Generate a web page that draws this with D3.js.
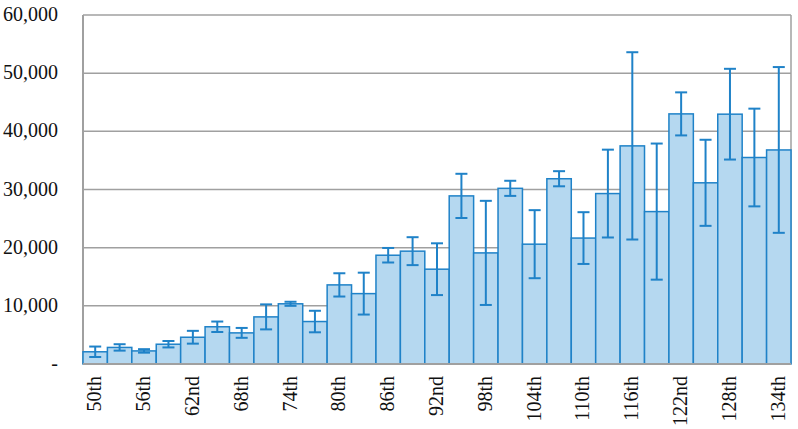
<!DOCTYPE html>
<html>
<head>
<meta charset="utf-8">
<script src="https://cdn.jsdelivr.net/npm/d3@7"></script>
<style>
  body { margin: 0; background: #fff; }
  svg { display: block; }
  text { font-family: "Liberation Serif", "DejaVu Serif", serif; }
</style>
</head>
<body>
<main></main>
<script>
// Data
const categories = ["50th", "53rd", "56th", "59th", "62nd", "65th", "68th", "71st", "74th", "77th",
  "80th", "83rd", "86th", "89th", "92nd", "95th", "98th", "101st", "104th", "107th",
  "110th", "113th", "116th", "119th", "122nd", "125th", "128th", "131st", "134th"];
const values = [2100, 2850, 2250, 3400, 4600, 6400, 5350, 8100, 10350, 7300,
  13600, 12100, 18700, 19400, 16300, 28900, 19100, 30200, 20600, 31850,
  21650, 29300, 37500, 26200, 43000, 31150, 42950, 35500, 36800];
const errors = [900, 550, 300, 550, 1100, 900, 850, 2150, 350, 1850,
  2000, 3600, 1250, 2400, 4450, 3800, 8950, 1300, 5850, 1300,
  4450, 7550, 16100, 11700, 3700, 7400, 7800, 8400, 14250];
const yTicks = [0, 10000, 20000, 30000, 40000, 50000, 60000];
const xTickLabels = categories.filter((d, i) => i % 2 === 0);

// Set dimensions
const w = 798;
const h = 429;
const plotLeft = 83;
const plotRight = 791;
const plotTop = 15;
const plotBottom = 364;

const blue = "#1f82c8";
const fill = "#b5d8f0";
const grid = "#a0a0a0";

const svg = d3
  .select("main")
  .append("svg")
  .attr("width", w)
  .attr("height", h)
  .attr("viewBox", `0 0 ${w} ${h}`);

// Scales
const xScale = d3.scaleBand().domain(categories).range([plotLeft, plotRight]).padding(0);
const yScale = d3.scaleLinear().domain([0, 60000]).range([plotBottom, plotTop]);

// Grid lines
svg
  .append("g")
  .selectAll("line")
  .data(yTicks)
  .enter()
  .append("line")
  .attr("x1", plotLeft)
  .attr("x2", plotRight)
  .attr("y1", (d) => yScale(d))
  .attr("y2", (d) => yScale(d))
  .attr("stroke", grid)
  .attr("stroke-width", 1.5);

// Frame: left and right sides
svg
  .append("line")
  .attr("x1", plotLeft).attr("x2", plotLeft)
  .attr("y1", plotTop).attr("y2", plotBottom)
  .attr("stroke", grid).attr("stroke-width", 2);
svg
  .append("line")
  .attr("x1", plotRight).attr("x2", plotRight)
  .attr("y1", plotTop).attr("y2", plotBottom)
  .attr("stroke", grid).attr("stroke-width", 1.5);

// Bars
svg
  .append("g")
  .selectAll("rect")
  .data(values)
  .enter()
  .append("rect")
  .attr("x", (d, i) => xScale(categories[i]))
  .attr("y", (d) => yScale(d))
  .attr("width", xScale.bandwidth())
  .attr("height", (d) => plotBottom - yScale(d))
  .attr("fill", fill)
  .attr("stroke", blue)
  .attr("stroke-width", 1.5);

// Error bars
const errG = svg
  .append("g")
  .selectAll("g")
  .data(values)
  .enter()
  .append("g")
  .attr("stroke", blue)
  .attr("stroke-width", 2);

const cx = (i) => xScale(categories[i]) + xScale.bandwidth() / 2;

errG
  .append("line")
  .attr("x1", (d, i) => cx(i))
  .attr("x2", (d, i) => cx(i))
  .attr("y1", (d, i) => yScale(d + errors[i]))
  .attr("y2", (d, i) => yScale(d - errors[i]));
errG
  .append("line")
  .attr("x1", (d, i) => cx(i) - 6)
  .attr("x2", (d, i) => cx(i) + 6)
  .attr("y1", (d, i) => yScale(d + errors[i]))
  .attr("y2", (d, i) => yScale(d + errors[i]));
errG
  .append("line")
  .attr("x1", (d, i) => cx(i) - 6)
  .attr("x2", (d, i) => cx(i) + 6)
  .attr("y1", (d, i) => yScale(d - errors[i]))
  .attr("y2", (d, i) => yScale(d - errors[i]));

// Bottom axis line
svg
  .append("line")
  .attr("x1", plotLeft).attr("x2", plotRight)
  .attr("y1", plotBottom).attr("y2", plotBottom)
  .attr("stroke", grid).attr("stroke-width", 2);

// Y labels
svg
  .append("g")
  .selectAll("text")
  .data(yTicks)
  .enter()
  .append("text")
  .attr("x", 58)
  .attr("y", (d) => yScale(d) + 6)
  .attr("text-anchor", "end")
  .attr("font-size", 20)
  .attr("fill", "#111")
  .text((d) => (d === 0 ? "-" : d3.format(",")(d)));

// X labels
svg
  .append("g")
  .selectAll("text")
  .data(xTickLabels)
  .enter()
  .append("text")
  .attr("transform", (d) => `translate(${xScale(d) + xScale.bandwidth() / 2 + 6}, 376) rotate(-90)`)
  .attr("text-anchor", "end")
  .attr("font-size", 20)
  .attr("fill", "#111")
  .text((d) => d);
</script>
</body>
</html>
